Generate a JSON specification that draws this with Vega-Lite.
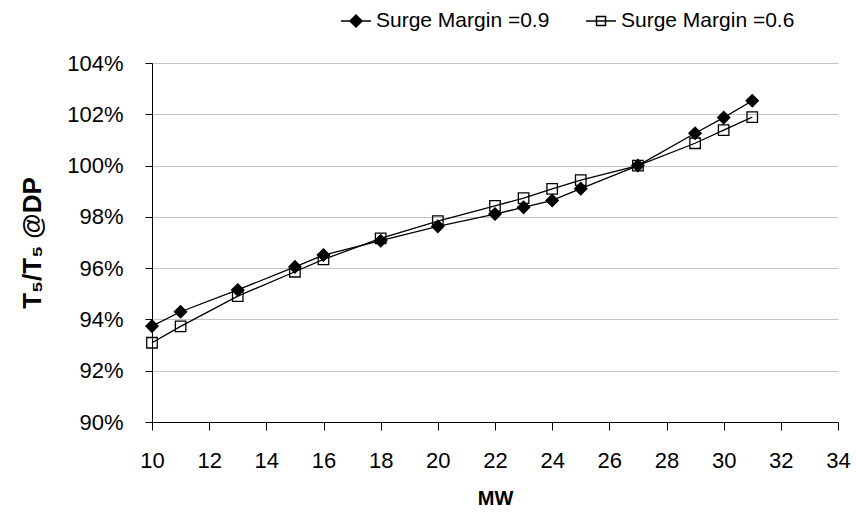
{
  "$schema": "https://vega.github.io/schema/vega-lite/v6.json",
  "width": 686,
  "height": 359,
  "autosize": {"type": "none"},
  "padding": {"left": 152, "top": 63, "right": 18, "bottom": 94},
  "background": "white",
  "config": {
    "view": {"stroke": null},
    "font": "Liberation Sans",
    "axis": {"labelFont": "Liberation Sans", "titleFont": "Liberation Sans", "labelColor": "black", "titleColor": "black", "domainColor": "black", "tickColor": "black"}
  },
  "data": {"values": [
    {"MW": 10, "series": "Surge Margin =0.9", "T": 0.9374},
    {"MW": 11, "series": "Surge Margin =0.9", "T": 0.9430},
    {"MW": 13, "series": "Surge Margin =0.9", "T": 0.9515},
    {"MW": 15, "series": "Surge Margin =0.9", "T": 0.9605},
    {"MW": 16, "series": "Surge Margin =0.9", "T": 0.9651},
    {"MW": 18, "series": "Surge Margin =0.9", "T": 0.9707},
    {"MW": 20, "series": "Surge Margin =0.9", "T": 0.9763},
    {"MW": 22, "series": "Surge Margin =0.9", "T": 0.9811},
    {"MW": 23, "series": "Surge Margin =0.9", "T": 0.9837},
    {"MW": 24, "series": "Surge Margin =0.9", "T": 0.9864},
    {"MW": 25, "series": "Surge Margin =0.9", "T": 0.9910},
    {"MW": 27, "series": "Surge Margin =0.9", "T": 1.0000},
    {"MW": 29, "series": "Surge Margin =0.9", "T": 1.0126},
    {"MW": 30, "series": "Surge Margin =0.9", "T": 1.0187},
    {"MW": 31, "series": "Surge Margin =0.9", "T": 1.0253},
    {"MW": 10, "series": "Surge Margin =0.6", "T": 0.9309},
    {"MW": 11, "series": "Surge Margin =0.6", "T": 0.9373},
    {"MW": 13, "series": "Surge Margin =0.6", "T": 0.9491},
    {"MW": 15, "series": "Surge Margin =0.6", "T": 0.9586},
    {"MW": 16, "series": "Surge Margin =0.6", "T": 0.9634},
    {"MW": 18, "series": "Surge Margin =0.6", "T": 0.9716},
    {"MW": 20, "series": "Surge Margin =0.6", "T": 0.9783},
    {"MW": 22, "series": "Surge Margin =0.6", "T": 0.9843},
    {"MW": 23, "series": "Surge Margin =0.6", "T": 0.9873},
    {"MW": 24, "series": "Surge Margin =0.6", "T": 0.9909},
    {"MW": 25, "series": "Surge Margin =0.6", "T": 0.9943},
    {"MW": 27, "series": "Surge Margin =0.6", "T": 1.0000},
    {"MW": 29, "series": "Surge Margin =0.6", "T": 1.0087},
    {"MW": 30, "series": "Surge Margin =0.6", "T": 1.0138},
    {"MW": 31, "series": "Surge Margin =0.6", "T": 1.0189}
  ]},
  "encoding": {
    "x": {
      "field": "MW", "type": "quantitative",
      "scale": {"domain": [10, 34], "nice": false, "zero": false},
      "axis": {
        "title": "MW", "titleFontSize": 20, "titleFontWeight": "bold", "titlePadding": 17,
        "values": [10, 12, 14, 16, 18, 20, 22, 24, 26, 28, 30, 32, 34],
        "grid": false, "tickSize": 8, "labelFontSize": 22, "labelPadding": 20, "labelFlush": false
      }
    },
    "y": {
      "field": "T", "type": "quantitative",
      "scale": {"domain": [0.9, 1.04], "nice": false, "zero": false},
      "axis": {
        "title": "T₅/T₅ @DP", "titleFontSize": 26, "titleFontWeight": "bold", "titlePadding": 21,
        "values": [0.9, 0.92, 0.94, 0.96, 0.98, 1.0, 1.02, 1.04],
        "format": ".0%", "grid": true, "gridColor": "#c4c4c4", "gridWidth": 1,
        "tickSize": 7, "labelFontSize": 22, "labelPadding": 22
      }
    }
  },
  "layer": [
    {
      "mark": {"type": "line", "color": "black", "strokeWidth": 1.3},
      "encoding": {"detail": {"field": "series"}}
    },
    {
      "mark": {"type": "point", "stroke": "black", "strokeWidth": 1.3, "opacity": 1},
      "encoding": {
        "shape": {"condition": {"test": "datum.series === 'Surge Margin =0.9'", "value": "diamond"}, "value": "square"},
        "fill": {"condition": {"test": "datum.series === 'Surge Margin =0.9'", "value": "black"}, "value": "transparent"},
        "size": {"condition": {"test": "datum.series === 'Surge Margin =0.9'", "value": 150}, "value": 110}
      }
    },
    {
      "transform": [{"filter": "datum.MW > 1000"}],
      "mark": {"type": "point", "stroke": "black", "strokeWidth": 1.3, "opacity": 1},
      "encoding": {
        "shape": {
          "field": "series", "type": "nominal",
          "scale": {"domain": ["Surge Margin =0.9", "Surge Margin =0.6"], "range": ["M-1,0L1,0M-0.4,0L0,-0.4L0.4,0L0,0.4Z", "M-1,0L1,0M-0.3,-0.3L0.3,-0.3L0.3,0.3L-0.3,0.3Z"]},
          "legend": {
            "title": null, "orient": "none", "legendX": 188, "legendY": -58,
            "direction": "horizontal", "columns": 2, "columnPadding": 33,
            "symbolSize": 900, "labelLimit": 400,
            "labelFontSize": 21, "labelColor": "black", "labelFont": "Liberation Sans", "labelOffset": 4,
            "encode": {"symbols": {"update": {"stroke": {"value": "black"}, "strokeWidth": {"value": 1.3}, "opacity": {"value": 1}}}}
          }
        },
        "fill": {
          "field": "series", "type": "nominal",
          "scale": {"domain": ["Surge Margin =0.9", "Surge Margin =0.6"], "range": ["black", "transparent"]},
          "legend": {
            "title": null, "orient": "none", "legendX": 188, "legendY": -58,
            "direction": "horizontal", "columns": 2, "columnPadding": 33,
            "symbolSize": 900, "labelLimit": 400,
            "labelFontSize": 21, "labelColor": "black", "labelFont": "Liberation Sans", "labelOffset": 4,
            "encode": {"symbols": {"update": {"stroke": {"value": "black"}, "strokeWidth": {"value": 1.3}, "opacity": {"value": 1}}}}
          }
        }
      }
    }
  ]
}
